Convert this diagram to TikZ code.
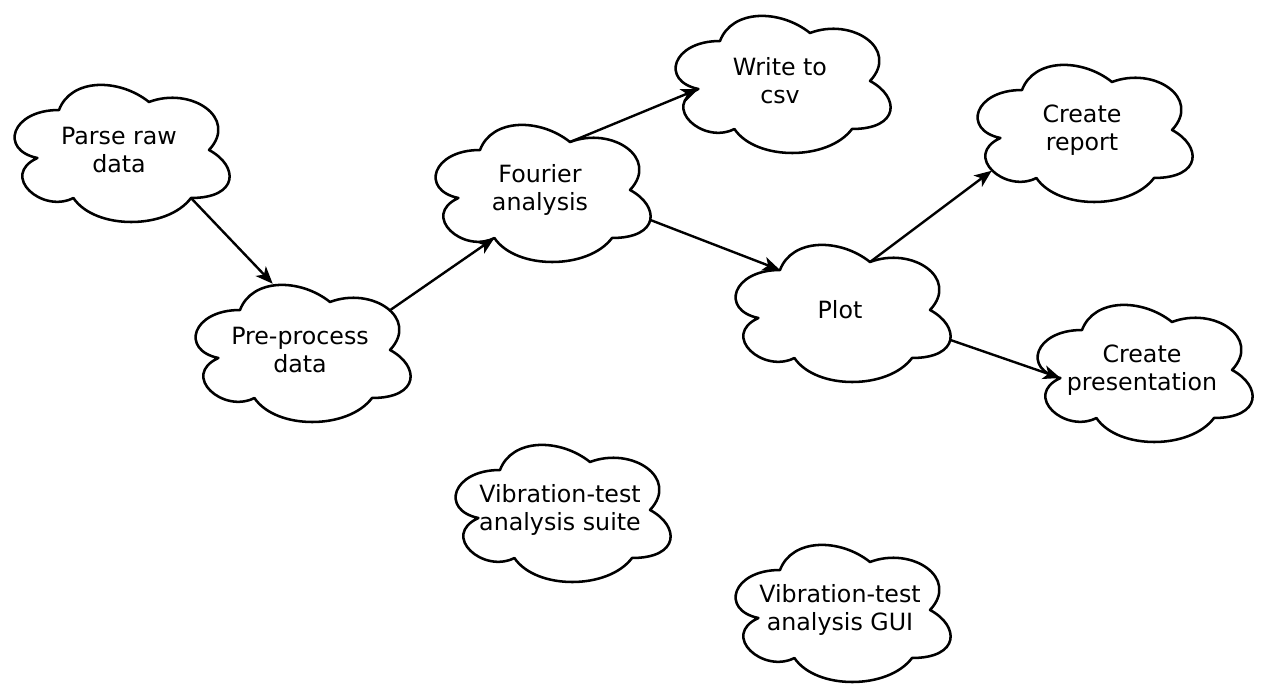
\documentclass[tikz,border=0pt]{standalone}
\usepackage{fontspec}
\setmainfont{DejaVu Sans}
\usetikzlibrary{arrows.meta,calc}
\tikzset{
  cloudtext/.style={draw=none, rectangle, minimum width=180pt, minimum height=120pt,
    inner sep=0pt, align=center, font=\fontsize{17.8}{21}\selectfont},
  cloudline/.style={draw=black, line width=1.9pt, line join=round},
  arr/.style={draw=black, line width=1.8pt,
    -{Stealth[length=13pt, width=10.5pt, inset=3.5pt]}},
}
\newcommand\mycloud[4]{%
  \begin{scope}[shift={(#2,#3)}]
    \draw[cloudline] (60,40) coordinate (#1-a)
      .. controls (12,40) and (0,80) .. (38.4,88) coordinate (#1-b)
      .. controls (0,105.6) and (43.2,144) .. (74.4,128) coordinate (#1-c)
      .. controls (96,160) and (168,160) .. (192,128) coordinate (#1-d)
      .. controls (240,128) and (240,96) .. (210,80) coordinate (#1-e)
      .. controls (240,48) and (192,16) .. (150,32) coordinate (#1-f)
      .. controls (120,8) and (72,8) .. (60,40) -- cycle;
  \end{scope}
  \node[cloudtext] (#1) at (#2+120,#3+80) {#4};
}
\begin{document}
\begin{tikzpicture}[x=0.75pt, y=-0.75pt]
  \useasboundingbox (0,0) rectangle (1261,692);
  \mycloud{parse}{-1}{70}{Parse raw\\data}
  \mycloud{pre}{180}{270}{Pre-process\\data}
  \mycloud{fourier}{420}{110}{Fourier\\analysis}
  \mycloud{write}{660}{1}{Write to\\csv}
  \mycloud{report}{962}{50}{Create\\report}
  \mycloud{plot}{720}{230}{Plot}
  \mycloud{pres}{1022}{290}{Create\\presentation}
  \mycloud{suite}{440}{430}{Vibration-test\\analysis suite}
  \mycloud{gui}{720}{530}{Vibration-test\\analysis GUI}

  \draw[arr] (parse-d) -- ($(pre.north west)+(93,14)$);
  \draw[arr] ($(pre.north west)+(211,40)$) -- (fourier-c);
  \draw[arr] (fourier-f) -- (write-b);
  \draw[arr] ($(fourier.north west)+(230,110)$) -- (plot-a);
  \draw[arr] (plot-f) -- ($(report.north west)+(30,121)$);
  \draw[arr] ($(plot.north west)+(230,110)$) -- (pres-b);
\end{tikzpicture}
\end{document}
